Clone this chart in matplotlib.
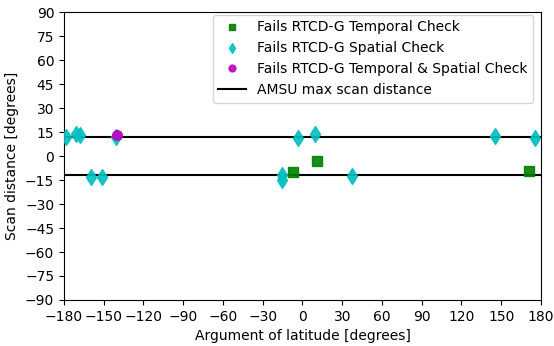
import numpy as np
from matplotlib import pyplot as plt

# points failing the temporal check
temp_x = [-7, 11, 171]
temp_y = [-9.8, -2.9, -9.4]

# points failing the spatial check
spat_x = [-178.7, -170.9, -168, -159.9, -151.3, -140.8, -15.5, -15.5, -3.6, 9.4, 37.4, 145.5, 175.7]
spat_y = [12, 13.6, 13, -12.9, -12.9, 12, -12, -15, 11.25, 13.75, -12.5, 12.7, 11.25]

# points failing both
both_x = [-140.2]
both_y = [13]

scan_max = 11.6

plt.rcParams['font.size'] = 10
fig = plt.figure(figsize=(5.54, 3.46), dpi=100)
ax = fig.add_axes([0.1155, 0.133, 0.861, 0.832])

ax.plot(temp_x, temp_y, 's', color='g', markersize=7, alpha=0.9, label='Fails RTCD-G Temporal Check', zorder=3)
ax.plot(spat_x, spat_y, 'd', color='c', markersize=8, alpha=0.9, label='Fails RTCD-G Spatial Check', zorder=3)
ax.plot(both_x, both_y, 'o', color='m', markersize=7, alpha=0.9, label='Fails RTCD-G Temporal & Spatial Check', zorder=4)
ax.axhline(scan_max, color='k', linewidth=1.5, label='AMSU max scan distance')
ax.axhline(-scan_max, color='k', linewidth=1.5)

ax.set_xlim(-180, 180)
ax.set_ylim(-90, 90)
ax.set_xticks(np.arange(-180, 181, 30))
ax.set_yticks(np.arange(-90, 91, 15))
ax.set_xlabel('Argument of latitude [degrees]')
ax.set_ylabel('Scan distance [degrees]')
ax.legend(loc='upper right', markerscale=0.7, bbox_to_anchor=(0.99, 1.0), borderaxespad=0.2)

fig.savefig('out.png')
